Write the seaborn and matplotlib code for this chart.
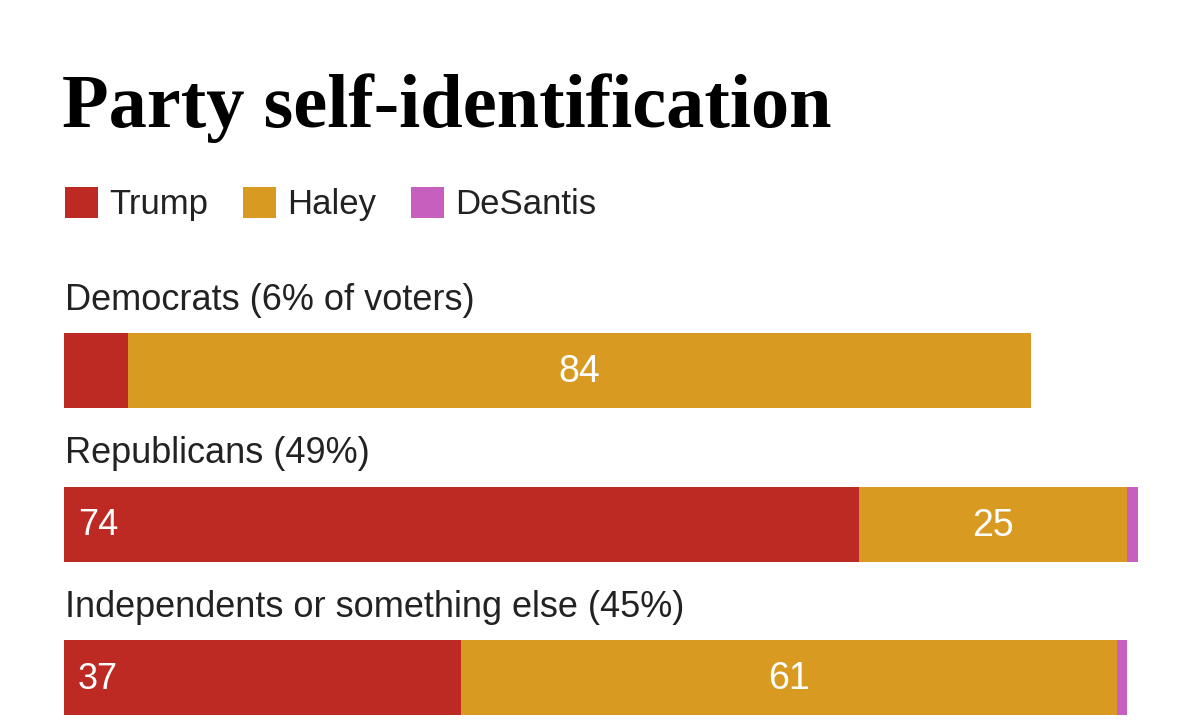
import seaborn as sns
import matplotlib.pyplot as plt
import pandas as pd
from matplotlib.patches import Patch

# Dati (percentuali per gruppo)
groups = ["Democrats (6% of voters)", "Republicans (49%)",
          "Independents or something else (45%)"]
trump = [6, 74, 37]
haley = [84, 25, 61]
desantis = [0, 1, 1]

candidates = ["Trump", "Haley", "DeSantis"]
colors = {"Trump": "#bd2a24", "Haley": "#d99a22", "DeSantis": "#c65fbd"}

df = pd.DataFrame({"group": groups, "Trump": trump, "Haley": haley, "DeSantis": desantis})
df["end_trump"] = df["Trump"]
df["end_haley"] = df["Trump"] + df["Haley"]
df["end_desantis"] = df["end_haley"] + df["DeSantis"]

sns.set_style("white")
plt.rcParams["font.family"] = ["Liberation Sans", "DejaVu Sans"]

fig = plt.figure(figsize=(12, 7.23), dpi=100)
ax = fig.add_axes([64 / 1200, 0, 1074 / 1200, 429 / 723])

# barre impilate: si disegna prima il totale, poi le parti interne
for col, cand in [("end_desantis", "DeSantis"), ("end_haley", "Haley"), ("end_trump", "Trump")]:
    sns.barplot(data=df, x=col, y="group", order=groups, color=colors[cand],
                width=0.49, errorbar=None, saturation=1, ax=ax, linewidth=0)

ax.set_xlim(0, 100)
ax.set_ylim(2.295, -0.5)
ax.set_axis_off()

text_col = "#222222"
for i, row in df.iterrows():
    ax.text(0.05, i - 0.46, row["group"], fontsize=26, color=text_col, va="center", ha="left")
    if row["Trump"] >= 10:
        ax.text(1.3, i + 0.01, str(row["Trump"]), fontsize=26, color="white", va="center", ha="left")
    if row["Haley"] >= 10:
        ax.text(row["Trump"] + row["Haley"] / 2, i + 0.01, str(row["Haley"]), fontsize=27,
                color="white", va="center", ha="center")

fig.text(62 / 1200, 1 - 127 / 723, "Party self-identification", fontsize=55,
         fontweight="bold", family=["Liberation Serif", "DejaVu Serif"], color="black",
         va="baseline", ha="left")

handles = [Patch(facecolor=colors[c], edgecolor="none", label=c) for c in candidates]
fig.legend(handles=handles, loc="center left", bbox_to_anchor=(34 / 1200, 1 - 204 / 723),
           ncol=3, frameon=False, fontsize=25, handlelength=0.95, handleheight=1.0,
           handletextpad=0.32, columnspacing=1.0, labelcolor=text_col)

fig.savefig("out.png", dpi=100, facecolor="white")
